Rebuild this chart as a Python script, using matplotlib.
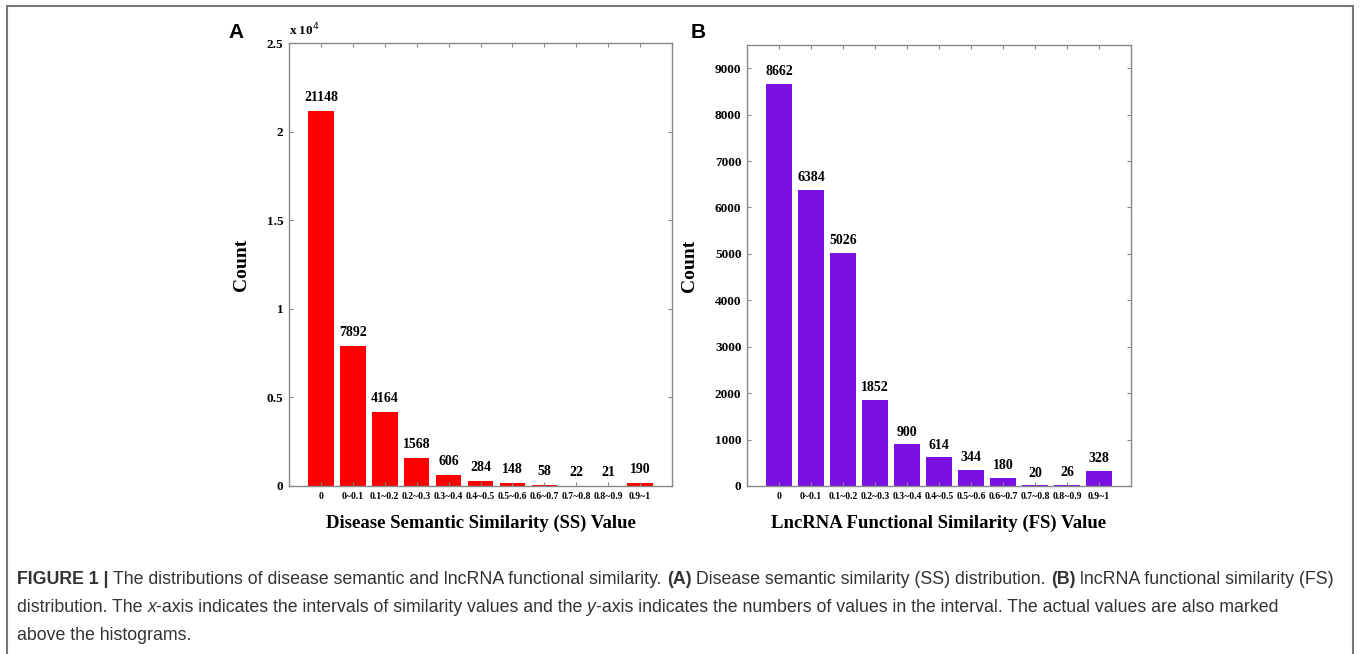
import matplotlib.pyplot as plt
from matplotlib.patches import Rectangle
from matplotlib.ticker import FuncFormatter, MultipleLocator

intervals = ["0", "0~0.1", "0.1~0.2", "0.2~0.3", "0.3~0.4", "0.4~0.5",
             "0.5~0.6", "0.6~0.7", "0.7~0.8", "0.8~0.9", "0.9~1"]
ss_counts = [21148, 7892, 4164, 1568, 606, 284, 148, 58, 22, 21, 190]
fs_counts = [8662, 6384, 5026, 1852, 900, 614, 344, 180, 20, 26, 328]

serif = "Liberation Serif"
sans = "Liberation Sans"

fig = plt.figure(figsize=(13.6, 6.54), dpi=100)
W, H = 1360, 654


def px_axes(x0, y0, x1, y1):
    return fig.add_axes([x0 / W, 1 - y1 / H, (x1 - x0) / W, (y1 - y0) / H])


def style(ax):
    for s in ax.spines.values():
        s.set_color("#888888")
        s.set_linewidth(1.0)
    ax.tick_params(direction="in", length=3, width=0.8, color="#888888",
                   top=True, right=True, pad=4)
    for lab in ax.get_yticklabels():
        lab.set_fontfamily(serif)
        lab.set_fontweight("bold")
        lab.set_fontsize(9.5)
    for lab in ax.get_xticklabels():
        lab.set_fontfamily(serif)
        lab.set_fontweight("bold")
        lab.set_fontsize(7)


def panel(ax, counts, color, ymax, step, xlabel, fmt, off):
    pos = list(range(1, len(counts) + 1))
    ax.bar(pos, counts, width=0.8, color=color)
    ax.set_xlim(0, 12)
    ax.set_ylim(0, ymax)
    ax.set_xticks(pos)
    ax.set_xticklabels(intervals)
    ax.yaxis.set_major_locator(MultipleLocator(step))
    ax.yaxis.set_major_formatter(FuncFormatter(fmt))
    for p, c in zip(pos, counts):
        ax.text(p, c + off, str(c), ha="center", va="bottom",
                fontfamily=serif, fontweight="bold", fontsize=10)
    ax.set_xlabel(xlabel, fontfamily=serif, fontweight="bold", fontsize=13.5,
                  labelpad=10)
    ax.set_ylabel("Count", fontfamily=serif, fontweight="bold", fontsize=14,
                  labelpad=12)
    style(ax)


axA = px_axes(289, 43, 672, 486)
panel(axA, ss_counts, "#ff0000", 25000, 5000,
      "Disease Semantic Similarity (SS) Value",
      lambda v, p: "0" if v == 0 else "%g" % (v / 1e4), 400)
axA.text(0.0, 1.01, "x 10$^{4}$", transform=axA.transAxes, fontfamily=serif,
         fontweight="bold", fontsize=9.5, ha="left", va="bottom")

axB = px_axes(747, 45, 1131, 486)
panel(axB, fs_counts, "#7b10e2", 9500, 1000,
      "LncRNA Functional Similarity (FS) Value",
      lambda v, p: "%d" % v, 120)

fig.text(236 / W, 1 - 32 / H, "A", fontfamily=sans, fontweight="bold",
         fontsize=15, ha="center", va="center")
fig.text(698 / W, 1 - 32 / H, "B", fontfamily=sans, fontweight="bold",
         fontsize=15, ha="center", va="center")

# outer frame
fig.patches.append(Rectangle((7 / W, -0.05), (1353 - 7) / W, 1.05 - 6 / H,
                             transform=fig.transFigure, fill=False,
                             edgecolor="#777777", linewidth=1.5))

# caption, mixed bold / regular pieces
lines = [
    [("FIGURE 1 | ", True, False),
     ("The distributions of disease semantic and lncRNA functional similarity. ", False, False),
     ("(A)", True, False),
     (" Disease semantic similarity (SS) distribution. ", False, False),
     ("(B)", True, False),
     (" lncRNA functional similarity (FS)", False, False)],
    [("distribution. The ", False, False), ("x", False, True),
     ("-axis indicates the intervals of similarity values and the ", False, False),
     ("y", False, True),
     ("-axis indicates the numbers of values in the interval. The actual values are also marked", False, False)],
    [("above the histograms.", False, False)],
]
line_y = [579, 608, 636]
fig.canvas.draw()
renderer = fig.canvas.get_renderer()
for pieces, yy in zip(lines, line_y):
    x = 17
    for s, bold, ital in pieces:
        t = fig.text(x / W, 1 - yy / H, s, fontfamily=sans, fontsize=12.8,
                     fontweight="bold" if bold else "normal",
                     fontstyle="italic" if ital else "normal",
                     color="#333333", ha="left", va="center")
        bb = t.get_window_extent(renderer=renderer)
        x += bb.width

fig.savefig("out.png", dpi=100)
